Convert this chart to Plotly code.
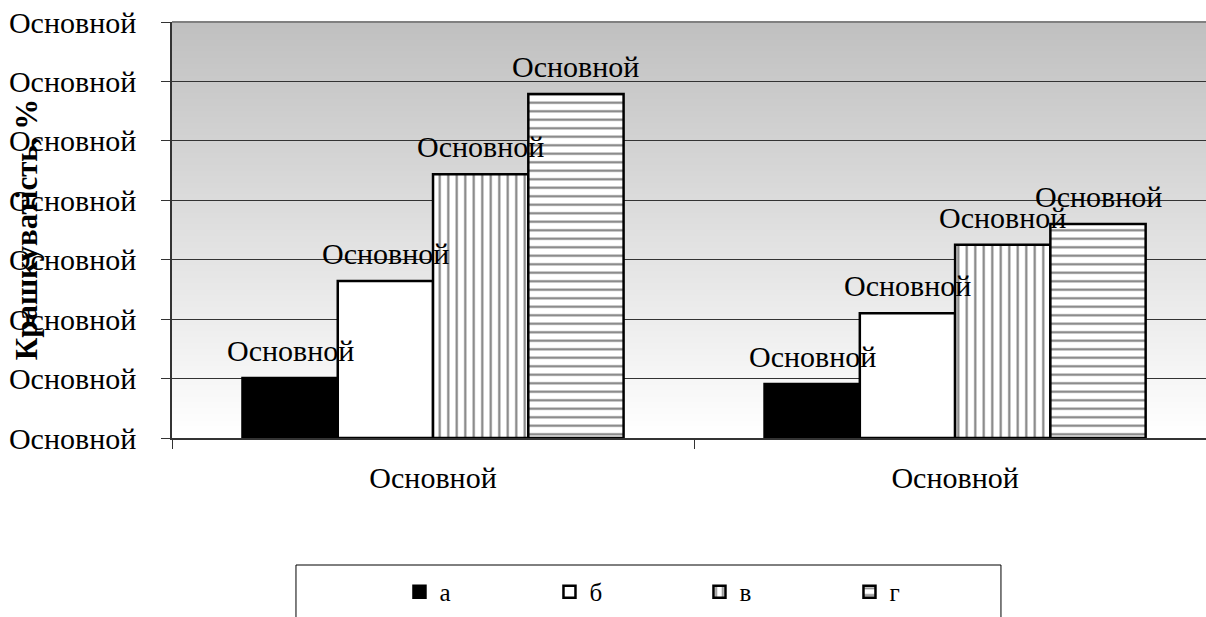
import plotly.graph_objects as go

# ---- data ----
x_labels = ["Основной", "Основной"]
x_pos = [0, 1]
series_names = ["а", "б", "в", "г"]
vals_a = [1.01, 0.91]
vals_b = [2.64, 2.10]
vals_v = [4.44, 3.25]
vals_g = [5.79, 3.60]
y_ticks = [0, 1, 2, 3, 4, 5, 6, 7]
y_ticktext = ["Основной"] * 8
bar_label = "Основной"
y_title = "Крашкуватість, %"

FONT = "Liberation Serif"
BARGAP = 0.27

series = [vals_a, vals_b, vals_v, vals_g]
outline = dict(color="black", width=2.5)
styles = [
    dict(color="black", line=outline),
    dict(color="white", line=outline),
    dict(color="white", line=outline,
         pattern=dict(shape="|", fgcolor="black", bgcolor="white", size=8.5, solidity=0.25)),
    dict(color="white", line=outline,
         pattern=dict(shape="-", fgcolor="black", bgcolor="white", size=8.5, solidity=0.25)),
]

fig = go.Figure()
for name, vals, st in zip(series_names, series, styles):
    fig.add_trace(go.Bar(x=x_pos, y=vals, name=name, marker=st))

# data labels as annotations (drawn above all bars)
n = len(series)
w = (1 - BARGAP) / n
annotations = []
for i, vals in enumerate(series):
    for xc, v in zip(x_pos, vals):
        annotations.append(dict(
            x=xc + (i - (n - 1) / 2) * w, y=v, xref="x", yref="y",
            text=bar_label, showarrow=False, yanchor="bottom", yshift=9,
            font=dict(family=FONT, size=30, color="black")))

annotations.append(dict(
    x=-0.141, y=0.5, xref="paper", yref="paper", text="<b>" + y_title + "</b>",
    textangle=-90, showarrow=False, xanchor="center", yanchor="middle",
    font=dict(family=FONT, size=31, color="black")))

# gradient background bands
shapes = []
nb = 70
for k in range(nb):
    t = k / nb
    c = int(round(255 - (255 - 192) * (k + 0.5) / nb))
    shapes.append(dict(type="rect", xref="paper", yref="paper",
                       x0=0, x1=1, y0=t, y1=(k + 1) / nb + 0.002,
                       fillcolor=f"rgb({c},{c},{c})", line=dict(width=0), layer="below"))
# top border of plot area
shapes.append(dict(type="line", xref="paper", yref="paper", x0=0, x1=1, y0=1, y1=1,
                   line=dict(color="#808080", width=2)))
# legend frame
shapes.append(dict(type="rect", xref="paper", yref="paper",
                   x0=0.1199, x1=0.8017, y0=-0.3053, y1=-0.6,
                   line=dict(color="black", width=1), fillcolor="rgba(0,0,0,0)"))

fig.update_layout(
    width=1206, height=617,
    margin=dict(l=172, r=0, t=22, b=179, autoexpand=False),
    paper_bgcolor="white", plot_bgcolor="white",
    barmode="group", bargap=BARGAP, bargroupgap=0,
    font=dict(family=FONT, size=30, color="black"),
    showlegend=True,
    legend=dict(orientation="h", x=0.22, xanchor="left", y=-0.37, yanchor="middle",
                font=dict(family=FONT, size=25, color="black"),
                entrywidth=105, entrywidthmode="pixels",
                bgcolor="rgba(0,0,0,0)", borderwidth=0),
    annotations=annotations,
    shapes=shapes,
    xaxis=dict(range=[-0.5, 1.4806], tickmode="array", tickvals=x_pos, ticktext=x_labels,
               ticks="", showgrid=False, zeroline=False, showline=True,
               linecolor="#333333", linewidth=1.5, ticklabelstandoff=12,
               minor=dict(tickmode="array", tickvals=[-0.5, 0.5], ticks="outside",
                          ticklen=9, tickcolor="#333333", showgrid=False),
               tickfont=dict(family=FONT, size=30)),
    yaxis=dict(range=[0, 7], tickmode="array", tickvals=y_ticks, ticktext=y_ticktext,
               ticks="outside", ticklen=9, tickcolor="#333333",
               showgrid=True, gridcolor="#333333", gridwidth=1, zeroline=False,
               showline=True, linecolor="#333333", linewidth=1.5, ticklabelstandoff=19,
               ticklabeloverflow="allow",
               tickfont=dict(family=FONT, size=30)),
)

fig.write_html("out.html", config={"displayModeBar": False},
               post_script="document.body.style.margin='0';")
